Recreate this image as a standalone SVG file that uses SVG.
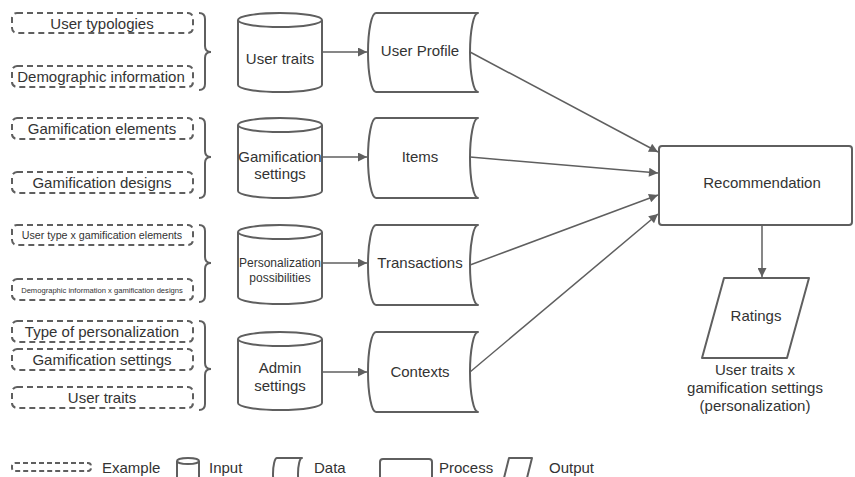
<svg xmlns="http://www.w3.org/2000/svg" width="855" height="477" viewBox="0 0 855 477">
<defs>
<style>
.dash{fill:#fff;stroke:#5f5f5f;stroke-width:2;stroke-dasharray:6 4}
.shape{fill:#fff;stroke:#5f5f5f;stroke-width:2;stroke-linejoin:round}
.brace{fill:none;stroke:#5f5f5f;stroke-width:2}
.conn{fill:none;stroke:#5f5f5f;stroke-width:1.5}
text{font-family:"Liberation Sans",Arial,sans-serif;fill:#333;font-size:15px;text-anchor:middle}
.lg{text-anchor:start}
</style>
<marker id="ah" viewBox="0 0 10 10" refX="10" refY="5" markerWidth="12" markerHeight="9" markerUnits="userSpaceOnUse" orient="auto">
<path d="M0,0 L10,5 L0,10 z" fill="#5f5f5f"/>
</marker>
</defs>
<rect width="855" height="477" fill="#fff"/>

<g id="examples">
<g id="ex1">
<rect class="dash" x="12" y="13" width="181" height="20" rx="5"/>
<text x="102" y="28.5">User typologies</text>
<rect class="dash" x="12" y="66" width="181" height="21" rx="5"/>
<text x="101" y="81.5">Demographic information</text>
<path class="brace" d="M199,13 Q205,13 205,19 L205,46 Q205,52 211,52 Q205,52 205,58 L205,84 Q205,90 199,90"/>
</g>
<g id="ex2">
<rect class="dash" x="12" y="118" width="181" height="21" rx="5"/>
<text x="102" y="134">Gamification elements</text>
<rect class="dash" x="12" y="172" width="181" height="21" rx="5"/>
<text x="102" y="188">Gamification designs</text>
<path class="brace" d="M199,118 Q205,118 205,124 L205,151 Q205,157 211,157 Q205,157 205,163 L205,192 Q205,198 199,198"/>
</g>
<g id="ex3">
<rect class="dash" x="12" y="225" width="181" height="20" rx="5"/>
<text x="102" y="239" style="font-size:10.7px">User type x gamification elements</text>
<rect class="dash" x="12" y="279" width="181" height="21" rx="5"/>
<text x="102" y="292.5" style="font-size:7.6px">Demographic information x gamification designs</text>
<path class="brace" d="M199,225 Q205,225 205,231 L205,257 Q205,263 211,263 Q205,263 205,269 L205,296 Q205,302 199,302"/>
</g>
<g id="ex4">
<rect class="dash" x="12" y="321" width="181" height="21" rx="5"/>
<text x="102" y="337">Type of personalization</text>
<rect class="dash" x="12" y="349" width="181" height="21" rx="5"/>
<text x="102" y="365">Gamification settings</text>
<rect class="dash" x="12" y="387" width="181" height="21" rx="5"/>
<text x="102" y="403">User traits</text>
<path class="brace" d="M199,321 Q205,321 205,327 L205,363 Q205,369 211,369 Q205,369 205,375 L205,404 Q205,410 199,410"/>
</g>
</g>

<g id="in-user-traits">
<path class="shape" d="M238,20 L238,85 A42,7 0 0 0 322,85 L322,20"/>
<ellipse class="shape" cx="280" cy="20" rx="42" ry="7"/>
<text x="280" y="64">User traits</text>
</g>
<g id="in-gamification-settings">
<path class="shape" d="M238,125 L238,191 A42,7 0 0 0 322,191 L322,125"/>
<ellipse class="shape" cx="280" cy="125" rx="42" ry="7"/>
<text x="280" y="162">Gamification</text>
<text x="280" y="179">settings</text>
</g>
<g id="in-personalization">
<path class="shape" d="M238,232 L238,297 A42,7 0 0 0 322,297 L322,232"/>
<ellipse class="shape" cx="280" cy="232" rx="42" ry="7"/>
<text x="280" y="267" style="font-size:12px">Personalization</text>
<text x="280" y="282" style="font-size:12px">possibilities</text>
</g>
<g id="in-admin">
<path class="shape" d="M238,339 L238,403 A42,7 0 0 0 322,403 L322,339"/>
<ellipse class="shape" cx="280" cy="339" rx="42" ry="7"/>
<text x="280" y="373">Admin</text>
<text x="280" y="391">settings</text>
</g>

<g id="data-user-profile">
<path class="shape" d="M376,13 L478,13 A8,39.5 0 0 0 478,92 L376,92 A8,39.5 0 0 1 376,13 Z"/>
<text x="420" y="56">User Profile</text>
</g>
<g id="data-items">
<path class="shape" d="M376,118 L478,118 A8,40 0 0 0 478,198 L376,198 A8,40 0 0 1 376,118 Z"/>
<text x="420" y="162">Items</text>
</g>
<g id="data-transactions">
<path class="shape" d="M376,225 L478,225 A8,40 0 0 0 478,305 L376,305 A8,40 0 0 1 376,225 Z"/>
<text x="420" y="268">Transactions</text>
</g>
<g id="data-contexts">
<path class="shape" d="M376,332 L478,332 A8,40 0 0 0 478,412 L376,412 A8,40 0 0 1 376,332 Z"/>
<text x="420" y="377">Contexts</text>
</g>

<g id="recommendation">
<rect class="shape" x="659" y="146" width="193" height="79" rx="3"/>
<text x="762" y="188">Recommendation</text>
</g>

<g id="ratings">
<path class="shape" d="M724,278 L809,278 L787,358 L702,358 Z"/>
<text x="756" y="321">Ratings</text>
<text x="755" y="375">User traits x</text>
<text x="755" y="393">gamification settings</text>
<text x="755" y="411">(personalization)</text>
</g>

<g id="connectors">
<path class="conn" d="M322,52 L367,52" marker-end="url(#ah)"/>
<path class="conn" d="M322,157 L367,157" marker-end="url(#ah)"/>
<path class="conn" d="M322,263 L367,263" marker-end="url(#ah)"/>
<path class="conn" d="M322,372 L367,372" marker-end="url(#ah)"/>
<path class="conn" d="M470,52 L658,152" marker-end="url(#ah)"/>
<path class="conn" d="M470,157 L658,173" marker-end="url(#ah)"/>
<path class="conn" d="M470,265 L658,195" marker-end="url(#ah)"/>
<path class="conn" d="M470,372 L658,214" marker-end="url(#ah)"/>
<path class="conn" d="M762,225 L762,277" marker-end="url(#ah)"/>
</g>

<g id="legend">
<rect class="dash" x="12" y="463" width="79" height="8" rx="3" style="stroke-dasharray:5 3"/>
<text class="lg" x="102" y="473">Example</text>
<path class="shape" d="M177,461 L177,490 L199,490 L199,461"/>
<ellipse class="shape" cx="188" cy="461" rx="11" ry="3"/>
<text class="lg" x="209" y="473">Input</text>
<path class="shape" d="M277,458 L302,458 A4,16 0 0 0 302,490 L277,490 A4,16 0 0 1 277,458 Z"/>
<text class="lg" x="314" y="473">Data</text>
<rect class="shape" x="380" y="459" width="52" height="30" rx="3"/>
<text class="lg" x="439" y="473">Process</text>
<path class="shape" d="M509,458 L532,458 L524,490 L501,490 Z"/>
<text class="lg" x="549" y="473">Output</text>
</g>
</svg>
